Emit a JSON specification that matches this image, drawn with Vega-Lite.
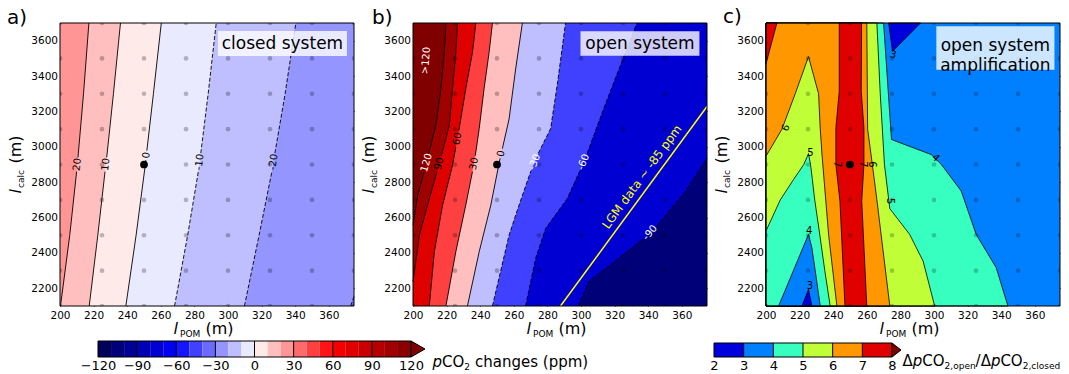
{
"$schema":"https://vega.github.io/schema/vega-lite/v6.json",
"background":"white",
"padding":{"left":7,"top":7,"right":8,"bottom":2},
"config":{
 "font":"DejaVu Sans",
 "view":{"stroke":null},
 "axis":{"grid":false,"domain":false,"ticks":false,"labelFont":"DejaVu Sans","titleFont":"DejaVu Sans","labelFontSize":10.5,"labelColor":"black","titleColor":"black","tickColor":"black","tickSize":4,"tickWidth":1,"titleFontWeight":"normal","titleAlign":"left","titleBaseline":"alphabetic","zindex":1,"labelFlush":false,"labelOverlap":false},
 "text":{"font":"DejaVu Sans"},
 "title":{"font":"DejaVu Sans","fontWeight":"normal","color":"black"}
},
"datasets":{
 "one":[{"k":1}],
 "ctr":[{"x":250,"y":2900}],
 "grid":[
  {"x":200,"y":2100},{"x":200,"y":2300},{"x":200,"y":2500},{"x":200,"y":2700},{"x":200,"y":2900},{"x":200,"y":3100},{"x":200,"y":3300},{"x":200,"y":3500},{"x":200,"y":3700},
  {"x":225,"y":2100},{"x":225,"y":2300},{"x":225,"y":2500},{"x":225,"y":2700},{"x":225,"y":2900},{"x":225,"y":3100},{"x":225,"y":3300},{"x":225,"y":3500},{"x":225,"y":3700},
  {"x":250,"y":2100},{"x":250,"y":2300},{"x":250,"y":2500},{"x":250,"y":2700},{"x":250,"y":2900},{"x":250,"y":3100},{"x":250,"y":3300},{"x":250,"y":3500},{"x":250,"y":3700},
  {"x":275,"y":2100},{"x":275,"y":2300},{"x":275,"y":2500},{"x":275,"y":2700},{"x":275,"y":2900},{"x":275,"y":3100},{"x":275,"y":3300},{"x":275,"y":3500},{"x":275,"y":3700},
  {"x":300,"y":2100},{"x":300,"y":2300},{"x":300,"y":2500},{"x":300,"y":2700},{"x":300,"y":2900},{"x":300,"y":3100},{"x":300,"y":3300},{"x":300,"y":3500},{"x":300,"y":3700},
  {"x":325,"y":2100},{"x":325,"y":2300},{"x":325,"y":2500},{"x":325,"y":2700},{"x":325,"y":2900},{"x":325,"y":3100},{"x":325,"y":3300},{"x":325,"y":3500},{"x":325,"y":3700},
  {"x":350,"y":2100},{"x":350,"y":2300},{"x":350,"y":2500},{"x":350,"y":2700},{"x":350,"y":2900},{"x":350,"y":3100},{"x":350,"y":3300},{"x":350,"y":3500},{"x":350,"y":3700},
  {"x":375,"y":2100},{"x":375,"y":2300},{"x":375,"y":2500},{"x":375,"y":2700},{"x":375,"y":2900},{"x":375,"y":3100},{"x":375,"y":3300},{"x":375,"y":3500},{"x":375,"y":3700}
 ],
 "la":[
  {"c":20,"x":217.2,"y":3700,"s":1},{"c":20,"x":214,"y":3300,"s":1},{"c":20,"x":210.7,"y":2940,"s":1},{"c":20,"x":209.9,"y":2860,"s":0},{"c":20,"x":205.8,"y":2500,"s":0},{"c":20,"x":200.3,"y":2100,"s":0},
  {"c":10,"x":236,"y":3700,"s":1},{"c":10,"x":231.8,"y":3300,"s":1},{"c":10,"x":227.8,"y":2940,"s":1},{"c":10,"x":226.8,"y":2860,"s":0},{"c":10,"x":222.5,"y":2500,"s":0},{"c":10,"x":217.4,"y":2100,"s":0},
  {"c":0,"x":260.3,"y":3700,"s":1},{"c":0,"x":255.6,"y":3300,"s":1},{"c":0,"x":251.7,"y":2978,"s":1},{"c":0,"x":251.1,"y":2925,"s":0},{"c":0,"x":250.8,"y":2900,"s":0},{"c":0,"x":245.3,"y":2500,"s":0},{"c":0,"x":239.2,"y":2100,"s":0},
  {"c":-10,"x":293,"y":3700,"s":1},{"c":-10,"x":288.2,"y":3300,"s":1},{"c":-10,"x":283.8,"y":2964,"s":1},{"c":-10,"x":282.4,"y":2864,"s":0},{"c":-10,"x":276,"y":2500,"s":0},{"c":-10,"x":268.2,"y":2100,"s":0},
  {"c":-20,"x":340.4,"y":3700,"s":1},{"c":-20,"x":334,"y":3300,"s":1},{"c":-20,"x":327.9,"y":2964,"s":1},{"c":-20,"x":326.2,"y":2864,"s":0},{"c":-20,"x":318.5,"y":2500,"s":0},{"c":-20,"x":309.8,"y":2100,"s":0},
  {"c":-30,"x":373,"y":2100,"s":0},{"c":-30,"x":375,"y":2153,"s":0}
 ],
 "lb":[
  {"c":120,"x":219.6,"y":3700,"s":1},{"c":120,"x":218.6,"y":3534,"s":1},{"c":120,"x":216.6,"y":3328,"s":1},{"c":120,"x":213.6,"y":3121,"s":1},{"c":120,"x":209.3,"y":2960,"s":1},{"c":120,"x":206.6,"y":2860,"s":0},{"c":120,"x":202.8,"y":2726,"s":0},{"c":120,"x":200,"y":2557,"s":0},{"c":120,"x":200,"y":2100,"s":0,"e":1},
  {"c":90,"x":226.5,"y":3700,"s":1},{"c":90,"x":225.5,"y":3534,"s":1},{"c":90,"x":223.5,"y":3328,"s":1},{"c":90,"x":221.6,"y":3121,"s":1},{"c":90,"x":216.9,"y":2950,"s":1},{"c":90,"x":214.3,"y":2860,"s":0},{"c":90,"x":209.7,"y":2707,"s":0},{"c":90,"x":203.8,"y":2501,"s":0},{"c":90,"x":200,"y":2238,"s":0},{"c":90,"x":200,"y":2100,"s":0,"e":1},
  {"c":60,"x":237.4,"y":3700,"s":1},{"c":60,"x":235.4,"y":3534,"s":1},{"c":60,"x":231.4,"y":3328,"s":1},{"c":60,"x":227.3,"y":3092,"s":1},{"c":60,"x":225.5,"y":3000,"s":0},{"c":60,"x":223.5,"y":2895,"s":0},{"c":60,"x":217.6,"y":2670,"s":0},{"c":60,"x":212.7,"y":2407,"s":0},{"c":60,"x":209.7,"y":2100,"s":0},
  {"c":30,"x":247.3,"y":3700,"s":1},{"c":30,"x":245.3,"y":3534,"s":1},{"c":30,"x":242.3,"y":3328,"s":1},{"c":30,"x":239.4,"y":3102,"s":1},{"c":30,"x":237.1,"y":2950,"s":1},{"c":30,"x":235.4,"y":2860,"s":0},{"c":30,"x":231.4,"y":2670,"s":0},{"c":30,"x":225.5,"y":2407,"s":0},{"c":30,"x":219.6,"y":2100,"s":0},
  {"c":0,"x":265.1,"y":3700,"s":1},{"c":0,"x":261.1,"y":3440,"s":1},{"c":0,"x":257.2,"y":3158,"s":1},{"c":0,"x":253.2,"y":2990,"s":1},{"c":0,"x":251.9,"y":2935,"s":0},{"c":0,"x":251.2,"y":2905,"s":0},{"c":0,"x":246.3,"y":2670,"s":0},{"c":0,"x":239.4,"y":2407,"s":0},{"c":0,"x":232.4,"y":2100,"s":0},
  {"c":-30,"x":290.8,"y":3700,"s":1},{"c":-30,"x":285.8,"y":3346,"s":1},{"c":-30,"x":281.9,"y":3102,"s":1},{"c":-30,"x":274.6,"y":2964,"s":1},{"c":-30,"x":270.2,"y":2864,"s":0},{"c":-30,"x":263.1,"y":2670,"s":0},{"c":-30,"x":257.2,"y":2501,"s":0},{"c":-30,"x":247.3,"y":2100,"s":0},
  {"c":-60,"x":333.3,"y":3700,"s":1},{"c":-60,"x":323.4,"y":3459,"s":1},{"c":-60,"x":313.5,"y":3215,"s":1},{"c":-60,"x":303.7,"y":2964,"s":1},{"c":-60,"x":299.3,"y":2864,"s":0},{"c":-60,"x":291.8,"y":2707,"s":0},{"c":-60,"x":278.9,"y":2538,"s":0},{"c":-60,"x":273,"y":2369,"s":0},{"c":-60,"x":267,"y":2100,"s":0},
  {"c":-90,"x":375,"y":2935,"s":1},{"c":-90,"x":362,"y":2745,"s":1},{"c":-90,"x":344.9,"y":2550,"s":1},{"c":-90,"x":337.1,"y":2480,"s":0},{"c":-90,"x":322.4,"y":2369,"s":0},{"c":-90,"x":304.6,"y":2238,"s":0},{"c":-90,"x":298.5,"y":2100,"s":0}
 ],
 "lgm":[{"x":287.8,"y":2100},{"x":375,"y":3228}],
 "pc":[
  {"r":"R4","y":2100,"a":200,"b":344},{"r":"R4","y":2317,"a":200,"b":337},{"r":"R4","y":2505,"a":200,"b":325.1},{"r":"R4","y":2750,"a":200,"b":316.2},{"r":"R4","y":2900,"a":200,"b":304.4},{"r":"R4","y":2956,"a":200,"b":298.4},{"r":"R4","y":3041,"a":200,"b":274.7},{"r":"R4","y":3700,"a":200,"b":270},
  {"r":"R5","y":2100,"a":200,"b":300.4},{"r":"R5","y":2354,"a":200,"b":293.5},{"r":"R5","y":2505,"a":200,"b":285.5},{"r":"R5","y":2627,"a":200,"b":275.6},{"r":"R5","y":2650,"a":200,"b":273.7},{"r":"R5","y":2900,"a":200,"b":270.5},{"r":"R5","y":3300,"a":200,"b":268},{"r":"R5","y":3700,"a":200,"b":266},
  {"r":"R6","y":2100,"a":200,"b":273.7},{"r":"R6","y":2700,"a":200,"b":266},{"r":"R6","y":2900,"a":200,"b":263.3},{"r":"R6","y":3100,"a":200,"b":260.5},{"r":"R6","y":3700,"a":200,"b":260},
  {"r":"R7","y":2100,"a":247,"b":260},{"r":"R7","y":2693,"a":244,"b":257},{"r":"R7","y":2900,"a":241.6,"b":258.3},{"r":"R7","y":3107,"a":241.6,"b":258.3},{"r":"R7","y":3314,"a":243.6,"b":256.7},{"r":"R7","y":3700,"a":243.6,"b":256.9},
  {"r":"R7c","y":3470,"a":200,"b":200},{"r":"R7c","y":3700,"a":200,"b":206.5},
  {"r":"T6","y":2100,"a":200,"b":242.2},{"r":"T6","y":2500,"a":200,"b":237.3},{"r":"T6","y":2947,"a":200,"b":233.4},{"r":"T6","y":3100,"a":209.5,"b":232.3},{"r":"T6","y":3300,"a":217.4,"b":231.3},{"r":"T6","y":3510,"a":225.3,"b":225.3},
  {"r":"T5","y":2100,"a":200,"b":238.2},{"r":"T5","y":2300,"a":200,"b":235},{"r":"T5","y":2524,"a":200,"b":231.7},{"r":"T5","y":2700,"a":208.5,"b":229},{"r":"T5","y":2815,"a":216.4,"b":227.6},{"r":"T5","y":2900,"a":222.5,"b":226.5},{"r":"T5","y":2962,"a":225.3,"b":225.3},
  {"r":"T4","y":2100,"a":207.5,"b":232.3},{"r":"T4","y":2300,"a":216.3,"b":229.3},{"r":"T4","y":2430,"a":222,"b":227.3},{"r":"T4","y":2505,"a":225.3,"b":225.3},
  {"r":"T3","y":2100,"a":221.4,"b":227.3},{"r":"T3","y":2194,"a":225.3,"b":225.3},
  {"r":"T3t","y":3540,"a":275.3,"b":275.3},{"r":"T3t","y":3700,"a":273,"b":292}
 ],
 "laba":[{"t":"20","x":210.3,"y":2900},{"t":"10","x":227.3,"y":2900},{"t":"0","x":251.4,"y":2952},{"t":"-10","x":283.1,"y":2914},{"t":"-20","x":327.05,"y":2914}],
 "labb":[{"t":">120","x":207.7,"y":3487},{"t":"120","x":208,"y":2910},{"t":"90","x":215.6,"y":2905},{"t":"60","x":226.4,"y":3046},{"t":"30","x":236.3,"y":2905},{"t":"0","x":252.5,"y":2962},{"t":"-30","x":272.4,"y":2914},{"t":"-60","x":301.5,"y":2914},{"t":"-90","x":341.1,"y":2515}],
 "labc":[{"k":"6a","t":"6","x":211.9,"y":3107},{"k":"5a","t":"5","x":226.4,"y":2966},{"k":"4a","t":"4","x":225.7,"y":2524},{"k":"3a","t":"3","x":226.1,"y":2213},{"k":"7a","t":"7","x":242.4,"y":2900},{"k":"7b","t":"7","x":257.6,"y":2900},{"k":"6b","t":"6","x":262.8,"y":2900},{"k":"5b","t":"5","x":273.7,"y":2693},{"k":"4b","t":"4","x":301,"y":2938},{"k":"3b","t":"3","x":275.6,"y":3521}],
 "cb1":[{"lo":-120,"hi":-110},{"lo":-110,"hi":-100},{"lo":-100,"hi":-90},{"lo":-90,"hi":-80},{"lo":-80,"hi":-70},{"lo":-70,"hi":-60},{"lo":-60,"hi":-50},{"lo":-50,"hi":-40},{"lo":-40,"hi":-30},{"lo":-30,"hi":-20},{"lo":-20,"hi":-10},{"lo":-10,"hi":0},{"lo":0,"hi":10},{"lo":10,"hi":20},{"lo":20,"hi":30},{"lo":30,"hi":40},{"lo":40,"hi":50},{"lo":50,"hi":60},{"lo":60,"hi":70},{"lo":70,"hi":80},{"lo":80,"hi":90},{"lo":90,"hi":100},{"lo":100,"hi":110},{"lo":110,"hi":120}],
 "cb2":[{"lo":2,"hi":3},{"lo":3,"hi":4},{"lo":4,"hi":5},{"lo":5,"hi":6},{"lo":6,"hi":7},{"lo":7,"hi":8}]
},
"concat":[
  {"width":294,"height":283,
   "title":{"text":"a)","anchor":"start","frame":"group","dx":-53,"offset":-23,"baseline":"alphabetic","fontSize":20},
   "resolve":{"axis":{"x":"independent","y":"independent"}},
   "layer":[
    {"data":{"name":"one"},"mark":{"type":"rect","color":"#ff9595"},"encoding":{
      "x":{"datum":200,"type":"quantitative","scale":{"domain":[200,375],"nice":false,"zero":false},"axis":{"orient":"bottom","values":[200,220,240,260,280,300,320,340,360],"format":"d","labelPadding":4,"title":"l","titleFontStyle":"italic","titleFontSize":16,"titleX":113,"titleY":27}},
      "x2":{"datum":375},
      "y":{"datum":2100,"type":"quantitative","scale":{"domain":[2100,3700],"nice":false,"zero":false},"axis":{"orient":"left","values":[2200,2400,2600,2800,3000,3200,3400,3600],"format":"d","labelPadding":2.5,"title":"l","titleFontStyle":"italic","titleFontSize":16,"titleX":-40,"titleY":170}},
      "y2":{"datum":3700}}},
    {"data":{"name":"la"},"transform":[{"filter":"datum.c===20"}],"mark":{"type":"area","orient":"horizontal","color":"#ffbfbf"},"encoding":{
      "x":{"field":"x","type":"quantitative","axis":{"orient":"bottom","offset":-4,"values":[200,220,240,260,280,300,320,340,360],"labels":false,"ticks":true,"title":"POM","titleFontSize":9,"titleX":119.5,"titleY":34}},
      "x2":{"datum":375},
      "y":{"field":"y","type":"quantitative","axis":{"orient":"left","offset":-4,"values":[2200,2400,2600,2800,3000,3200,3400,3600],"labels":false,"ticks":true,"title":"calc","titleFontSize":9,"titleX":-41,"titleY":164.5}}}},
    {"data":{"name":"la"},"transform":[{"filter":"datum.c===10"}],"mark":{"type":"area","orient":"horizontal","color":"#ffeaea"},"encoding":{
      "x":{"field":"x","type":"quantitative","axis":{"orient":"bottom","labels":false,"title":"(m)","titleFontSize":16,"titleX":145,"titleY":27}},
      "x2":{"datum":375},
      "y":{"field":"y","type":"quantitative","axis":{"orient":"left","labels":false,"title":"(m)","titleFontSize":16,"titleX":-40,"titleY":140}}}},
    {"data":{"name":"la"},"transform":[{"filter":"datum.c===0"}],"mark":{"type":"area","orient":"horizontal","color":"#eaeaff"},"encoding":{
      "x":{"field":"x","type":"quantitative","axis":{"orient":"top","offset":-4,"values":[200,220,240,260,280,300,320,340,360],"labels":false,"ticks":true,"title":null}},
      "x2":{"datum":375},
      "y":{"field":"y","type":"quantitative","axis":{"orient":"right","offset":-4,"values":[2200,2400,2600,2800,3000,3200,3400,3600],"labels":false,"ticks":true,"title":null}}}},
    {"data":{"name":"la"},"transform":[{"filter":"datum.c===-10"}],"mark":{"type":"area","orient":"horizontal","color":"#bfbfff"},"encoding":{"x":{"field":"x","type":"quantitative","axis":null},"x2":{"datum":375},"y":{"field":"y","type":"quantitative","axis":null}}},
    {"data":{"name":"la"},"transform":[{"filter":"datum.c===-20"}],"mark":{"type":"area","orient":"horizontal","color":"#9595ff"},"encoding":{"x":{"field":"x","type":"quantitative","axis":null},"x2":{"datum":375},"y":{"field":"y","type":"quantitative","axis":null}}},
    {"data":{"name":"la"},"transform":[{"filter":"datum.c===-30"}],"mark":{"type":"area","orient":"horizontal","color":"#6a6aff"},"encoding":{"x":{"field":"x","type":"quantitative","axis":null},"x2":{"datum":375},"y":{"field":"y","type":"quantitative","axis":null}}},
    {"data":{"name":"la"},"transform":[{"filter":"datum.c>=0"}],"mark":{"type":"line","color":"black","strokeWidth":0.9},"encoding":{"x":{"field":"x","type":"quantitative","axis":null},"y":{"field":"y","type":"quantitative","axis":null},"detail":[{"field":"c","type":"nominal"},{"field":"s","type":"nominal"}],"order":{"field":"y","type":"quantitative"}}},
    {"data":{"name":"la"},"transform":[{"filter":"datum.c<0"}],"mark":{"type":"line","color":"black","strokeWidth":0.9,"strokeDash":[4,2]},"encoding":{"x":{"field":"x","type":"quantitative","axis":null},"y":{"field":"y","type":"quantitative","axis":null},"detail":[{"field":"c","type":"nominal"},{"field":"s","type":"nominal"}],"order":{"field":"y","type":"quantitative"}}},
    {"data":{"name":"grid"},"mark":{"type":"circle","color":"black","opacity":0.25,"size":22,"clip":true},"encoding":{"x":{"field":"x","type":"quantitative","axis":null},"y":{"field":"y","type":"quantitative","axis":null}}},
    {"data":{"name":"ctr"},"mark":{"type":"circle","color":"black","opacity":1,"size":60},"encoding":{"x":{"field":"x","type":"quantitative","axis":null},"y":{"field":"y","type":"quantitative","axis":null}}},
    {"data":{"name":"laba"},"mark":{"type":"text","angle":277,"fontSize":10,"color":"black"},"encoding":{"x":{"field":"x","type":"quantitative","axis":null},"y":{"field":"y","type":"quantitative","axis":null},"text":{"field":"t"}}},
    {"data":{"name":"one"},"mark":{"type":"rect","color":"white","opacity":0.8},"encoding":{"x":{"datum":294,"type":"quantitative","axis":null},"x2":{"datum":370.8},"y":{"datum":3513.5,"type":"quantitative","axis":null},"y2":{"datum":3654.8}}},
    {"data":{"name":"one"},"mark":{"type":"text","text":"closed system","fontSize":17,"color":"black"},"encoding":{"x":{"datum":332.4,"type":"quantitative","axis":null},"y":{"datum":3584,"type":"quantitative","axis":null}}},
    {"data":{"name":"one"},"mark":{"type":"rect","filled":false,"color":"black","strokeWidth":1},"encoding":{"x":{"datum":200,"type":"quantitative","axis":null},"x2":{"datum":375},"y":{"datum":2100,"type":"quantitative","axis":null},"y2":{"datum":3700}}}
   ]},
  {"width":294,"height":283,
   "title":{"text":"b)","anchor":"start","frame":"group","dx":-41,"offset":-23,"baseline":"alphabetic","fontSize":20},
   "resolve":{"axis":{"x":"independent","y":"independent"}},
   "layer":[
    {"data":{"name":"one"},"mark":{"type":"rect","color":"#800000"},"encoding":{
      "x":{"datum":200,"type":"quantitative","scale":{"domain":[200,375],"nice":false,"zero":false},"axis":{"orient":"bottom","values":[200,220,240,260,280,300,320,340,360],"format":"d","labelPadding":4,"title":"l","titleFontStyle":"italic","titleFontSize":16,"titleX":113,"titleY":27}},
      "x2":{"datum":375},
      "y":{"datum":2100,"type":"quantitative","scale":{"domain":[2100,3700],"nice":false,"zero":false},"axis":{"orient":"left","values":[2200,2400,2600,2800,3000,3200,3400,3600],"format":"d","labelPadding":2.5,"title":"l","titleFontStyle":"italic","titleFontSize":16,"titleX":-40,"titleY":170}},
      "y2":{"datum":3700}}},
    {"data":{"name":"lb"},"transform":[{"filter":"datum.c===120"}],"mark":{"type":"area","orient":"horizontal","color":"#9f0000"},"encoding":{
      "x":{"field":"x","type":"quantitative","axis":{"orient":"bottom","offset":-4,"values":[200,220,240,260,280,300,320,340,360],"labels":false,"ticks":true,"title":"POM","titleFontSize":9,"titleX":119.5,"titleY":34}},
      "x2":{"datum":375},
      "y":{"field":"y","type":"quantitative","axis":{"orient":"left","offset":-4,"values":[2200,2400,2600,2800,3000,3200,3400,3600],"labels":false,"ticks":true,"title":"calc","titleFontSize":9,"titleX":-41,"titleY":164.5}}}},
    {"data":{"name":"lb"},"transform":[{"filter":"datum.c===90"}],"mark":{"type":"area","orient":"horizontal","color":"#df0000"},"encoding":{
      "x":{"field":"x","type":"quantitative","axis":{"orient":"bottom","labels":false,"title":"(m)","titleFontSize":16,"titleX":145,"titleY":27}},
      "x2":{"datum":375},
      "y":{"field":"y","type":"quantitative","axis":{"orient":"left","labels":false,"title":"(m)","titleFontSize":16,"titleX":-40,"titleY":140}}}},
    {"data":{"name":"lb"},"transform":[{"filter":"datum.c===60"}],"mark":{"type":"area","orient":"horizontal","color":"#ff4040"},"encoding":{
      "x":{"field":"x","type":"quantitative","axis":{"orient":"top","offset":-4,"values":[200,220,240,260,280,300,320,340,360],"labels":false,"ticks":true,"title":null}},
      "x2":{"datum":375},
      "y":{"field":"y","type":"quantitative","axis":{"orient":"right","offset":-4,"values":[2200,2400,2600,2800,3000,3200,3400,3600],"labels":false,"ticks":true,"title":null}}}},
    {"data":{"name":"lb"},"transform":[{"filter":"datum.c===30"}],"mark":{"type":"area","orient":"horizontal","color":"#ffbfbf"},"encoding":{"x":{"field":"x","type":"quantitative","axis":null},"x2":{"datum":375},"y":{"field":"y","type":"quantitative","axis":null}}},
    {"data":{"name":"lb"},"transform":[{"filter":"datum.c===0"}],"mark":{"type":"area","orient":"horizontal","color":"#bfbfff"},"encoding":{"x":{"field":"x","type":"quantitative","axis":null},"x2":{"datum":375},"y":{"field":"y","type":"quantitative","axis":null}}},
    {"data":{"name":"lb"},"transform":[{"filter":"datum.c===-30"}],"mark":{"type":"area","orient":"horizontal","color":"#4040ff"},"encoding":{"x":{"field":"x","type":"quantitative","axis":null},"x2":{"datum":375},"y":{"field":"y","type":"quantitative","axis":null}}},
    {"data":{"name":"lb"},"transform":[{"filter":"datum.c===-60"}],"mark":{"type":"area","orient":"horizontal","color":"#0000d2"},"encoding":{"x":{"field":"x","type":"quantitative","axis":null},"x2":{"datum":375},"y":{"field":"y","type":"quantitative","axis":null}}},
    {"data":{"name":"lb"},"transform":[{"filter":"datum.c===-90"}],"mark":{"type":"area","orient":"horizontal","color":"#000079"},"encoding":{"x":{"field":"x","type":"quantitative","axis":null},"x2":{"datum":375},"y":{"field":"y","type":"quantitative","axis":null}}},
    {"data":{"name":"lb"},"transform":[{"filter":"datum.c>=0 && !datum.e"}],"mark":{"type":"line","color":"black","strokeWidth":0.9},"encoding":{"x":{"field":"x","type":"quantitative","axis":null},"y":{"field":"y","type":"quantitative","axis":null},"detail":[{"field":"c","type":"nominal"},{"field":"s","type":"nominal"}],"order":{"field":"y","type":"quantitative"}}},
    {"data":{"name":"lb"},"transform":[{"filter":"datum.c<0"}],"mark":{"type":"line","color":"black","strokeWidth":0.9,"strokeDash":[4,2]},"encoding":{"x":{"field":"x","type":"quantitative","axis":null},"y":{"field":"y","type":"quantitative","axis":null},"detail":[{"field":"c","type":"nominal"},{"field":"s","type":"nominal"}],"order":{"field":"y","type":"quantitative"}}},
    {"data":{"name":"grid"},"mark":{"type":"circle","color":"black","opacity":0.25,"size":22,"clip":true},"encoding":{"x":{"field":"x","type":"quantitative","axis":null},"y":{"field":"y","type":"quantitative","axis":null}}},
    {"data":{"name":"lgm"},"mark":{"type":"line","color":"#ffff00","strokeWidth":1.5},"encoding":{"x":{"field":"x","type":"quantitative","axis":null},"y":{"field":"y","type":"quantitative","axis":null}}},
    {"data":{"name":"one"},"mark":{"type":"text","text":"LGM data ~ -85 ppm","angle":306.3,"fontSize":12,"color":"#ffff00"},"encoding":{"x":{"datum":336.3,"type":"quantitative","axis":null},"y":{"datum":2830,"type":"quantitative","axis":null}}},
    {"data":{"name":"ctr"},"mark":{"type":"circle","color":"black","opacity":1,"size":60},"encoding":{"x":{"field":"x","type":"quantitative","axis":null},"y":{"field":"y","type":"quantitative","axis":null}}},
    {"data":{"name":"labb"},"transform":[{"filter":"datum.t==='>120'"}],"mark":{"type":"text","angle":275,"fontSize":10,"color":"white"},"encoding":{"x":{"field":"x","type":"quantitative","axis":null},"y":{"field":"y","type":"quantitative","axis":null},"text":{"field":"t"}}},
    {"data":{"name":"labb"},"transform":[{"filter":"datum.t==='120'"}],"mark":{"type":"text","angle":286,"fontSize":10,"color":"white"},"encoding":{"x":{"field":"x","type":"quantitative","axis":null},"y":{"field":"y","type":"quantitative","axis":null},"text":{"field":"t"}}},
    {"data":{"name":"labb"},"transform":[{"filter":"datum.t==='90'"}],"mark":{"type":"text","angle":285,"fontSize":10,"color":"black"},"encoding":{"x":{"field":"x","type":"quantitative","axis":null},"y":{"field":"y","type":"quantitative","axis":null},"text":{"field":"t"}}},
    {"data":{"name":"labb"},"transform":[{"filter":"datum.t==='60'||datum.t==='30'||datum.t==='0'"}],"mark":{"type":"text","angle":280,"fontSize":10,"color":"black"},"encoding":{"x":{"field":"x","type":"quantitative","axis":null},"y":{"field":"y","type":"quantitative","axis":null},"text":{"field":"t"}}},
    {"data":{"name":"labb"},"transform":[{"filter":"datum.t==='-30'||datum.t==='-60'"}],"mark":{"type":"text","angle":292,"fontSize":10,"color":"white"},"encoding":{"x":{"field":"x","type":"quantitative","axis":null},"y":{"field":"y","type":"quantitative","axis":null},"text":{"field":"t"}}},
    {"data":{"name":"labb"},"transform":[{"filter":"datum.t==='-90'"}],"mark":{"type":"text","angle":310,"fontSize":10,"color":"white"},"encoding":{"x":{"field":"x","type":"quantitative","axis":null},"y":{"field":"y","type":"quantitative","axis":null},"text":{"field":"t"}}},
    {"data":{"name":"one"},"mark":{"type":"rect","color":"white","opacity":0.8},"encoding":{"x":{"datum":299.7,"type":"quantitative","axis":null},"x2":{"datum":370.5},"y":{"datum":3515.5,"type":"quantitative","axis":null},"y2":{"datum":3652.7}}},
    {"data":{"name":"one"},"mark":{"type":"text","text":"open system","fontSize":17,"color":"black"},"encoding":{"x":{"datum":335.1,"type":"quantitative","axis":null},"y":{"datum":3584,"type":"quantitative","axis":null}}},
    {"data":{"name":"one"},"mark":{"type":"rect","filled":false,"color":"black","strokeWidth":1},"encoding":{"x":{"datum":200,"type":"quantitative","axis":null},"x2":{"datum":375},"y":{"datum":2100,"type":"quantitative","axis":null},"y2":{"datum":3700}}}
   ]},
  {"width":294,"height":283,
   "title":{"text":"c)","anchor":"start","frame":"group","dx":-43,"offset":-22,"baseline":"alphabetic","fontSize":20},
   "resolve":{"axis":{"x":"independent","y":"independent"}},
   "layer":[
    {"data":{"name":"one"},"mark":{"type":"rect","color":"#0080ff"},"encoding":{
      "x":{"datum":200,"type":"quantitative","scale":{"domain":[200,375],"nice":false,"zero":false},"axis":{"orient":"bottom","values":[200,220,240,260,280,300,320,340,360],"format":"d","labelPadding":4,"title":"l","titleFontStyle":"italic","titleFontSize":16,"titleX":113,"titleY":27}},
      "x2":{"datum":375},
      "y":{"datum":2100,"type":"quantitative","scale":{"domain":[2100,3700],"nice":false,"zero":false},"axis":{"orient":"left","values":[2200,2400,2600,2800,3000,3200,3400,3600],"format":"d","labelPadding":2.5,"title":"l","titleFontStyle":"italic","titleFontSize":16,"titleX":-40,"titleY":170}},
      "y2":{"datum":3700}}},
    {"data":{"name":"pc"},"transform":[{"filter":"datum.r==='R4'"}],"mark":{"type":"area","orient":"horizontal","fill":"#37ffc0","stroke":"black","strokeWidth":0.8},"encoding":{
      "x":{"field":"a","type":"quantitative","axis":{"orient":"bottom","offset":-4,"values":[200,220,240,260,280,300,320,340,360],"labels":false,"ticks":true,"title":"POM","titleFontSize":9,"titleX":119.5,"titleY":34}},
      "x2":{"field":"b"},
      "y":{"field":"y","type":"quantitative","axis":{"orient":"left","offset":-4,"values":[2200,2400,2600,2800,3000,3200,3400,3600],"labels":false,"ticks":true,"title":"calc","titleFontSize":9,"titleX":-41,"titleY":164.5}}}},
    {"data":{"name":"pc"},"transform":[{"filter":"datum.r==='R5'"}],"mark":{"type":"area","orient":"horizontal","fill":"#c0ff37","stroke":"black","strokeWidth":0.8},"encoding":{
      "x":{"field":"a","type":"quantitative","axis":{"orient":"bottom","labels":false,"title":"(m)","titleFontSize":16,"titleX":145,"titleY":27}},
      "x2":{"field":"b"},
      "y":{"field":"y","type":"quantitative","axis":{"orient":"left","labels":false,"title":"(m)","titleFontSize":16,"titleX":-40,"titleY":140}}}},
    {"data":{"name":"pc"},"transform":[{"filter":"datum.r==='R6'"}],"mark":{"type":"area","orient":"horizontal","fill":"#ff9700","stroke":"black","strokeWidth":0.8},"encoding":{
      "x":{"field":"a","type":"quantitative","axis":{"orient":"top","offset":-4,"values":[200,220,240,260,280,300,320,340,360],"labels":false,"ticks":true,"title":null}},
      "x2":{"field":"b"},
      "y":{"field":"y","type":"quantitative","axis":{"orient":"right","offset":-4,"values":[2200,2400,2600,2800,3000,3200,3400,3600],"labels":false,"ticks":true,"title":null}}}},
    {"data":{"name":"pc"},"transform":[{"filter":"datum.r==='R7'||datum.r==='R7c'"}],"mark":{"type":"area","orient":"horizontal","fill":"#e00000","stroke":"black","strokeWidth":0.8},"encoding":{"x":{"field":"a","type":"quantitative","axis":null},"x2":{"field":"b"},"y":{"field":"y","type":"quantitative","axis":null},"detail":{"field":"r","type":"nominal"}}},
    {"data":{"name":"pc"},"transform":[{"filter":"datum.r==='T6'"}],"mark":{"type":"area","orient":"horizontal","fill":"#c0ff37","stroke":"black","strokeWidth":0.8},"encoding":{"x":{"field":"a","type":"quantitative","axis":null},"x2":{"field":"b"},"y":{"field":"y","type":"quantitative","axis":null}}},
    {"data":{"name":"pc"},"transform":[{"filter":"datum.r==='T5'"}],"mark":{"type":"area","orient":"horizontal","fill":"#37ffc0","stroke":"black","strokeWidth":0.8},"encoding":{"x":{"field":"a","type":"quantitative","axis":null},"x2":{"field":"b"},"y":{"field":"y","type":"quantitative","axis":null}}},
    {"data":{"name":"pc"},"transform":[{"filter":"datum.r==='T4'"}],"mark":{"type":"area","orient":"horizontal","fill":"#0080ff","stroke":"black","strokeWidth":0.8},"encoding":{"x":{"field":"a","type":"quantitative","axis":null},"x2":{"field":"b"},"y":{"field":"y","type":"quantitative","axis":null}}},
    {"data":{"name":"pc"},"transform":[{"filter":"datum.r==='T3'||datum.r==='T3t'"}],"mark":{"type":"area","orient":"horizontal","fill":"#0000dd","stroke":"black","strokeWidth":0.8},"encoding":{"x":{"field":"a","type":"quantitative","axis":null},"x2":{"field":"b"},"y":{"field":"y","type":"quantitative","axis":null},"detail":{"field":"r","type":"nominal"}}},
    {"data":{"name":"grid"},"mark":{"type":"circle","color":"black","opacity":0.22,"size":22,"clip":true},"encoding":{"x":{"field":"x","type":"quantitative","axis":null},"y":{"field":"y","type":"quantitative","axis":null}}},
    {"data":{"name":"ctr"},"mark":{"type":"circle","color":"black","opacity":1,"size":60},"encoding":{"x":{"field":"x","type":"quantitative","axis":null},"y":{"field":"y","type":"quantitative","axis":null}}},
    {"data":{"name":"labc"},"transform":[{"filter":"datum.k==='6a'"}],"mark":{"type":"text","angle":295,"fontSize":10,"color":"black"},"encoding":{"x":{"field":"x","type":"quantitative","axis":null},"y":{"field":"y","type":"quantitative","axis":null},"text":{"field":"t"}}},
    {"data":{"name":"labc"},"transform":[{"filter":"datum.k==='5a'||datum.k==='4a'||datum.k==='3a'"}],"mark":{"type":"text","angle":0,"fontSize":10,"color":"black"},"encoding":{"x":{"field":"x","type":"quantitative","axis":null},"y":{"field":"y","type":"quantitative","axis":null},"text":{"field":"t"}}},
    {"data":{"name":"labc"},"transform":[{"filter":"datum.k==='7a'||datum.k==='7b'||datum.k==='6b'||datum.k==='5b'"}],"mark":{"type":"text","angle":90,"fontSize":10,"color":"black"},"encoding":{"x":{"field":"x","type":"quantitative","axis":null},"y":{"field":"y","type":"quantitative","axis":null},"text":{"field":"t"}}},
    {"data":{"name":"labc"},"transform":[{"filter":"datum.k==='4b'"}],"mark":{"type":"text","angle":45,"fontSize":10,"color":"black"},"encoding":{"x":{"field":"x","type":"quantitative","axis":null},"y":{"field":"y","type":"quantitative","axis":null},"text":{"field":"t"}}},
    {"data":{"name":"labc"},"transform":[{"filter":"datum.k==='3b'"}],"mark":{"type":"text","angle":15,"fontSize":10,"color":"black"},"encoding":{"x":{"field":"x","type":"quantitative","axis":null},"y":{"field":"y","type":"quantitative","axis":null},"text":{"field":"t"}}},
    {"data":{"name":"one"},"mark":{"type":"rect","color":"white","opacity":0.8},"encoding":{"x":{"datum":301.4,"type":"quantitative","axis":null},"x2":{"datum":371.7},"y":{"datum":3436,"type":"quantitative","axis":null},"y2":{"datum":3681}}},
    {"data":{"name":"one"},"mark":{"type":"text","text":["open system","amplification"],"lineHeight":20,"fontSize":17,"color":"black"},"encoding":{"x":{"datum":336.5,"type":"quantitative","axis":null},"y":{"datum":3568,"type":"quantitative","axis":null}}},
    {"data":{"name":"one"},"mark":{"type":"rect","filled":false,"color":"black","strokeWidth":1},"encoding":{"x":{"datum":200,"type":"quantitative","axis":null},"x2":{"datum":375},"y":{"datum":2100,"type":"quantitative","axis":null},"y2":{"datum":3700}}}
   ]},
  {"width":294,"height":16,
   "resolve":{"axis":{"x":"independent","y":"independent"}},
   "layer":[
    {"data":{"name":"cb1"},"mark":{"type":"rect"},"encoding":{
      "x":{"field":"lo","type":"quantitative","scale":{"domain":[-120,120],"range":[38,351],"nice":false,"zero":false},"axis":{"orient":"bottom","values":[-120,-90,-60,-30,0,30,60,90,120],"format":"d","labelFontSize":13,"labelPadding":2,"title":"p","titleFontStyle":"italic","titleFontSize":15,"titleX":372,"titleY":9}},
      "x2":{"field":"hi"},
      "y":{"datum":0,"type":"quantitative","scale":{"domain":[0,1],"nice":false,"zero":false},"axis":{"orient":"left","labels":false,"title":"CO","titleAngle":0,"titleFontSize":15,"titleX":381.5,"titleY":25}},
      "y2":{"datum":1},
      "color":{"field":"lo","type":"ordinal","legend":null,"scale":{"domain":[-120,-110,-100,-90,-80,-70,-60,-50,-40,-30,-20,-10,0,10,20,30,40,50,60,70,80,90,100,110],"range":["#00005b","#000079","#000097","#0000b5","#0000d2","#0000f0","#1515ff","#4040ff","#6a6aff","#9595ff","#bfbfff","#eaeaff","#ffeaea","#ffbfbf","#ff9595","#ff6a6a","#ff4040","#ff1515","#f50000","#df0000","#ca0000","#b50000","#9f0000","#8a0000"]}}}},
    {"data":{"name":"cb1"},"transform":[{"filter":"datum.lo%30===0 && datum.lo>-120"}],"mark":{"type":"rule","color":"black","strokeWidth":1},"encoding":{
      "x":{"field":"lo","type":"quantitative","axis":{"orient":"bottom","labels":false,"title":"2","titleFontSize":9,"titleX":403.8,"titleY":12}},
      "y":{"datum":0,"type":"quantitative","axis":{"orient":"left","labels":false,"title":"changes (ppm)","titleAngle":0,"titleFontSize":15,"titleX":414.5,"titleY":25}},
      "y2":{"datum":1}}},
    {"data":{"name":"one"},"mark":{"type":"rect","filled":false,"color":"black","strokeWidth":1},"encoding":{"x":{"datum":-120,"type":"quantitative","axis":null},"x2":{"datum":120},"y":{"datum":0,"type":"quantitative","axis":null},"y2":{"datum":1}}},
    {"data":{"name":"one"},"mark":{"type":"point","shape":"M -1 -1.1429 L 1 0 L -1 1.1429 Z","size":196,"filled":true,"fill":"#800000","stroke":"black","strokeWidth":1,"opacity":1},"encoding":{"x":{"datum":125.367,"type":"quantitative","axis":null},"y":{"datum":0.5,"type":"quantitative","axis":null}}}
   ]},
  {"width":294,"height":16,"data":{"name":"one"},"mark":{"type":"point","opacity":0},"encoding":{"x":{"datum":0,"type":"quantitative","axis":null},"y":{"datum":0,"type":"quantitative","axis":null}}},
  {"width":294,"height":16,
   "resolve":{"axis":{"x":"independent","y":"independent"}},
   "layer":[
    {"data":{"name":"cb2"},"mark":{"type":"rect"},"encoding":{
      "x":{"field":"lo","type":"quantitative","scale":{"domain":[2,8],"range":[-52,126],"nice":false,"zero":false},"axis":{"orient":"bottom","values":[2,3,4,5,6,7,8],"format":"d","labelFontSize":13,"labelPadding":2,"title":"Δ","titleFontSize":15,"titleX":136,"titleY":8}},
      "x2":{"field":"hi"},
      "y":{"datum":0,"type":"quantitative","scale":{"domain":[0,1.142857],"nice":false,"zero":false},"axis":{"orient":"left","labels":false,"title":"p","titleFontStyle":"italic","titleAngle":0,"titleFontSize":15,"titleX":146.3,"titleY":24}},
      "y2":{"datum":1},
      "color":{"field":"lo","type":"ordinal","legend":null,"scale":{"domain":[2,3,4,5,6,7],"range":["#0000dd","#0080ff","#37ffc0","#c0ff37","#ff9700","#e00000"]}}}},
    {"data":{"name":"cb2"},"transform":[{"filter":"datum.lo>2"}],"mark":{"type":"rule","color":"black","strokeWidth":1},"encoding":{
      "x":{"field":"lo","type":"quantitative","axis":{"orient":"bottom","labels":false,"title":"CO","titleFontSize":15,"titleX":155.8,"titleY":8}},
      "y":{"datum":0,"type":"quantitative","axis":{"orient":"left","labels":false,"title":"2,open","titleAngle":0,"titleFontSize":9,"titleX":178.1,"titleY":27}},
      "y2":{"datum":1}}},
    {"data":{"name":"one"},"mark":{"type":"rect","filled":false,"color":"black","strokeWidth":1},"encoding":{
      "x":{"datum":2,"type":"quantitative","axis":{"orient":"bottom","labels":false,"title":"/Δ","titleFontSize":15,"titleX":209.1,"titleY":8}},
      "x2":{"datum":8},
      "y":{"datum":0,"type":"quantitative","axis":{"orient":"left","labels":false,"title":"p","titleFontStyle":"italic","titleAngle":0,"titleFontSize":15,"titleX":224.4,"titleY":24}},
      "y2":{"datum":1}}},
    {"data":{"name":"one"},"mark":{"type":"point","shape":"M -1 -1.5556 L 1 0 L -1 1.5556 Z","size":81,"filled":true,"fill":"#800000","stroke":"black","strokeWidth":1,"opacity":1},"encoding":{
      "x":{"datum":8.1517,"type":"quantitative","axis":{"orient":"bottom","labels":false,"title":"CO","titleFontSize":15,"titleX":233.9,"titleY":8}},
      "y":{"datum":0.5,"type":"quantitative","axis":{"orient":"left","labels":false,"title":"2,closed","titleAngle":0,"titleFontSize":9,"titleX":256.2,"titleY":27}}}}
   ]}
],
"columns":3,
"bounds":"flush",
"spacing":{"row":35,"column":59},
"resolve":{"scale":{"color":"independent"}}
}
